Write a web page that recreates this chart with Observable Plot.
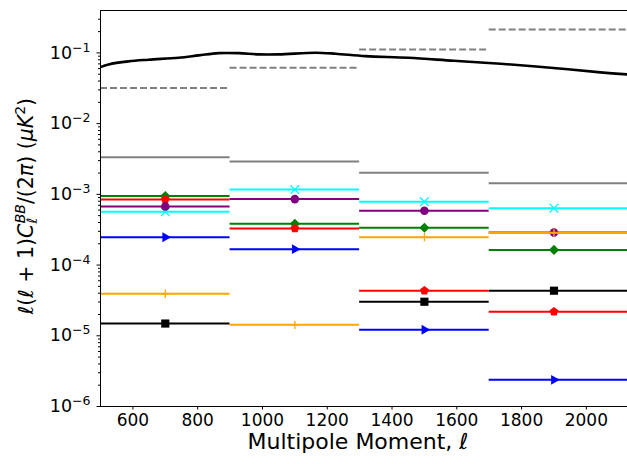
<!DOCTYPE html>
<html><head><meta charset="utf-8">
<script src="https://cdn.jsdelivr.net/npm/d3@7"></script>
<script src="https://cdn.jsdelivr.net/npm/@observablehq/plot@0.6"></script>
<style>body{margin:0;background:#fff;} svg{display:block;}</style>
</head><body><div id="chart"></div>
<script>
// ---- data ----
const binLo = [500, 900, 1300, 1700];
const binHi = [900, 1300, 1700, 2200];
const binCenter = [700, 1100, 1500, 1900];

const theoryEll = [500, 525, 586, 648, 741, 803, 864, 926, 988, 1050, 1164, 1226, 1318, 1451, 1590, 1735, 1889, 2044, 2127];
const theoryVal = [0.0630, 0.0687, 0.0759, 0.0802, 0.0855, 0.0922, 0.0993, 0.0993, 0.0953, 0.0953, 0.1007, 0.0975, 0.0901, 0.0855, 0.0775, 0.0703, 0.0618, 0.0530, 0.0497];

const grayDashed = [0.0318, 0.0618, 0.112, 0.215];
const graySolid  = [0.00336, 0.00292, 0.00202, 0.00143];
const blackSquare = [1.49e-5, null, 3.03e-5, 4.34e-5];
const blueTriangle = [2.48e-4, 1.68e-4, 1.22e-5, 2.38e-6];
const greenDiamond = [9.44e-4, 3.84e-4, 3.37e-4, 1.64e-4];
const redPentagon = [8.48e-4, 3.29e-4, 4.34e-5, 2.19e-5];
const cyanX = [5.67e-4, 1.17e-3, 7.85e-4, 6.38e-4];
const purpleCircle = [6.75e-4, 8.57e-4, 5.86e-4, 2.88e-4];
const orangePlus = [3.93e-5, 1.43e-5, 2.48e-4, 2.86e-4];

const xTicks = [600, 800, 1000, 1200, 1400, 1600, 1800, 2000];
const yTicks = [1e-6, 1e-5, 1e-4, 1e-3, 1e-2, 1e-1];
const xDomain = [500, 2127];
const yDomain = [1e-6, 0.398];

// ---- symbols ----
const pentagon = {draw(ctx, size) {
  const R = Math.sqrt(size / 2.3776);
  for (let i = 0; i < 5; i++) {
    const a = -Math.PI / 2 + i * 2 * Math.PI / 5;
    const x = R * Math.cos(a), y = R * Math.sin(a);
    if (i) ctx.lineTo(x, y); else ctx.moveTo(x, y);
  }
  ctx.closePath();
}};

const series = [
  {values: blackSquare, color: "black", symbol: "square", r: 4.6, filled: true},
  {values: blueTriangle, color: "blue", symbol: "triangle", r: 3.7, filled: true, rotate: 90},
  {values: greenDiamond, color: "green", symbol: "diamond2", r: 4.6, filled: true},
  {values: redPentagon, color: "red", symbol: pentagon, r: 4, filled: true},
  {values: cyanX, color: "cyan", symbol: "times", r: 4, filled: false},
  {values: purpleCircle, color: "purple", symbol: "circle", r: 4.3, filled: true},
  {values: orangePlus, color: "orange", symbol: "plus", r: 2.8, filled: false}
];

function rows(values) {
  return values.map((v, i) => ({lo: binLo[i], hi: binHi[i], c: binCenter[i], v})).filter(d => d.v != null);
}
const theory = theoryEll.map((l, i) => ({l, v: theoryVal[i]}));

const minor = [];
for (let e = -6; e <= -1; e++) for (let k = 2; k <= 9; k++) { const t = k * Math.pow(10, e); if (t <= yDomain[1]) minor.push(t); }

const marks = [
  Plot.line(theory, {x: "l", y: "v", stroke: "black", strokeWidth: 2.6, curve: "catmull-rom", clip: true}),
  Plot.ruleY(rows(grayDashed), {x1: "lo", x2: "hi", y: "v", stroke: "gray", strokeWidth: 2, strokeDasharray: "7,3", clip: true}),
  Plot.ruleY(rows(graySolid), {x1: "lo", x2: "hi", y: "v", stroke: "gray", strokeWidth: 2, clip: true})
];
for (const s of series) {
  marks.push(Plot.ruleY(rows(s.values), {x1: "lo", x2: "hi", y: "v", stroke: s.color, strokeWidth: 2, clip: true}));
  const opts = {x: "c", y: "v", symbol: s.symbol, r: s.r};
  if (s.filled) opts.fill = s.color; else { opts.stroke = s.color; opts.strokeWidth = 1.3; }
  if (s.rotate) opts.rotate = s.rotate;
  marks.push(Plot.dot(rows(s.values), opts));
}
marks.push(
  Plot.axisY({ticks: minor, tickSize: 2, tickFormat: () => "", label: null}),
  Plot.axisY({ticks: yTicks, tickSize: 3.5, tickPadding: 6.5, fontSize: 17.5, tickFormat: d => "10^" + Math.round(Math.log10(d)), label: null}),
  Plot.axisX({ticks: xTicks, tickSize: 3.5, tickPadding: 3.5, fontSize: 17, tickFormat: d => String(d), label: null}),
  Plot.ruleX([xDomain[0]], {stroke: "black", strokeWidth: 1}),
  Plot.ruleY([yDomain[0]], {stroke: "black", strokeWidth: 1}),
  Plot.ruleY([yDomain[1]], {stroke: "black", strokeWidth: 1})
);

const svg = Plot.plot({
  width: 627, height: 464,
  marginLeft: 100, marginRight: 0, marginTop: 10, marginBottom: 58,
  style: {fontFamily: "DejaVu Sans", fontSize: "14px", background: "white", color: "black"},
  x: {domain: xDomain, label: null},
  y: {type: "log", domain: yDomain, label: null},
  marks
});

// superscript tick labels
d3.select(svg).selectAll('g[aria-label="y-axis tick label"] text').each(function() {
  const t = d3.select(this);
  const s = t.text();
  if (!s.startsWith("10^")) return;
  const e = s.slice(3).replace("-", "\u2212");
  t.text(null);
  t.append("tspan").text("10");
  t.append("tspan").attr("font-size", 12.5).attr("dy", -7).text(e);
});

const S = d3.select(svg);
// x label
const xl = S.append("text").attr("x", 358).attr("y", 449).attr("text-anchor", "middle")
  .attr("font-size", 22).attr("font-family", "DejaVu Sans").attr("fill", "black");
xl.append("tspan").text("Multipole Moment, ");
xl.append("tspan").attr("font-style", "italic").text("\u2113");

// y label
const yl = S.append("text").attr("transform", "translate(33,206) rotate(-90)").attr("text-anchor", "middle")
  .attr("font-size", 20.5).attr("font-family", "DejaVu Sans").attr("fill", "black");
yl.append("tspan").attr("font-style", "italic").text("\u2113");
yl.append("tspan").text("(");
yl.append("tspan").attr("font-style", "italic").text("\u2113");
yl.append("tspan").text(" + 1)");
yl.append("tspan").attr("font-style", "italic").text("C");
yl.append("tspan").attr("font-style", "italic").attr("font-size", 14).attr("dy", 4).text("\u2113");
yl.append("tspan").attr("font-style", "italic").attr("font-size", 14).attr("dx", -5.5).attr("dy", -12).text("BB");
yl.append("tspan").attr("dy", 8).text("/(2");
yl.append("tspan").attr("font-style", "italic").text("\u03C0");
yl.append("tspan").text(") (");
yl.append("tspan").attr("font-style", "italic").text("\u03BCK");
yl.append("tspan").attr("font-size", 14).attr("dy", -8).text("2");
yl.append("tspan").attr("dy", 8).text(")");

document.getElementById("chart").appendChild(svg);
</script>
</body></html>
